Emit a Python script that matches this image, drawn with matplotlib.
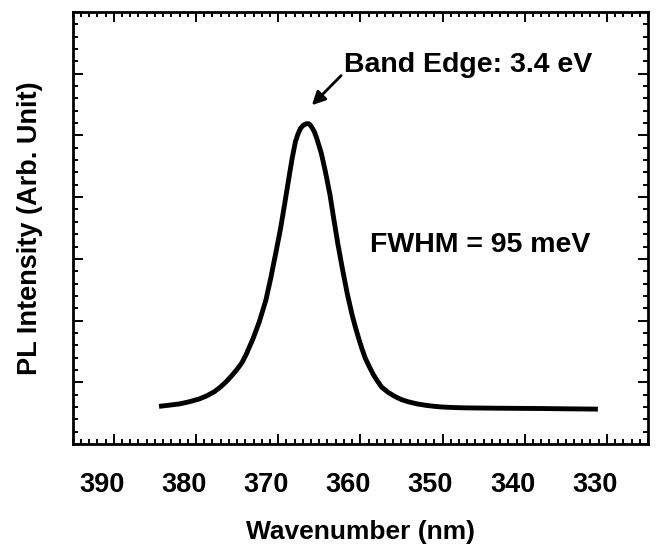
import numpy as np
import matplotlib.pyplot as plt
from matplotlib.ticker import MultipleLocator
from matplotlib.transforms import ScaledTranslation

plt.rcParams['font.family'] = ['Liberation Sans', 'DejaVu Sans']
plt.rcParams['font.weight'] = 'bold'

# PL spectrum (wavelength in nm, intensity in arb. units)
wavelength = [384.5, 383.2, 382.0, 380.8, 379.6, 378.7, 377.8, 377.1, 376.4,
              375.7, 375.0, 374.4, 373.9, 373.05, 372.3, 371.5, 370.9, 370.3,
              369.7, 369.2, 368.7, 368.3, 367.9, 367.6, 367.3, 367.0, 366.75,
              366.55, 366.3, 366.1, 365.9, 365.6, 365.3, 364.75, 364.25, 363.7,
              363.25, 362.75, 362.2, 361.6, 361.0, 360.6, 360.2, 359.8, 359.4,
              358.9, 358.4, 357.9, 357.4, 356.6, 355.8, 355.0, 354.2, 353.1,
              352.1, 351.1, 350.1, 348.5, 347.0, 343.3, 338.0, 331.1]
intensity = [0.61, 0.63, 0.65, 0.685, 0.73, 0.78, 0.845, 0.915, 1.0,
             1.1, 1.21, 1.32, 1.45, 1.71, 1.98, 2.33, 2.69, 3.09,
             3.50, 3.90, 4.31, 4.63, 4.90, 5.02, 5.11, 5.16, 5.18,
             5.19, 5.19, 5.17, 5.13, 5.06, 4.95, 4.71, 4.41, 4.04,
             3.66, 3.25, 2.85, 2.44, 2.09, 1.89, 1.71, 1.54, 1.39,
             1.25, 1.12, 1.015, 0.92, 0.835, 0.77, 0.72, 0.685, 0.65,
             0.628, 0.612, 0.60, 0.59, 0.585, 0.58, 0.575, 0.565]

x_ticks = [390, 380, 370, 360, 350, 340, 330]

fig = plt.figure(figsize=(6.57, 5.46), dpi=100)
ax = fig.add_axes([0.1107, 0.1868, 0.9863 - 0.1107, 0.978 - 0.1868])

ax.plot(wavelength, intensity, color='black', lw=3.5,
        solid_capstyle='butt', solid_joinstyle='round')

ax.set_xlim(395, 325)
ax.set_ylim(0, 7)
ax.set_xticks(x_ticks)
ax.xaxis.set_minor_locator(MultipleLocator(1))
ax.yaxis.set_major_locator(MultipleLocator(1))
ax.yaxis.set_minor_locator(MultipleLocator(0.2))
ax.set_yticklabels([])

ax.tick_params(which='both', direction='in', top=True, right=True, width=1.4)
ax.tick_params(which='major', length=7.5)
ax.tick_params(which='minor', length=3.5)
ax.tick_params(axis='x', which='major', pad=20)
for sp in ax.spines.values():
    sp.set_linewidth(2)

# tick labels in the reference sit a bit left of their ticks
offset = ScaledTranslation(-12 / 100, 0, fig.dpi_scale_trans)
for lab in ax.get_xticklabels():
    lab.set_transform(lab.get_transform() + offset)
    lab.set_fontweight('bold')
    lab.set_fontsize(19.5)

ax.set_xlabel('Wavenumber (nm)', fontsize=19, fontweight='bold', va='top')
ax.xaxis.set_label_coords(0.5, -0.175)
ax.set_ylabel('PL Intensity (Arb. Unit)', fontsize=19.5, fontweight='bold')
ax.yaxis.set_label_coords(-0.052, 0.5)

ax.annotate('Band Edge: 3.4 eV', xy=(365.9, 5.49), xytext=(362.0, 6.03),
            fontsize=20.5, fontweight='bold', ha='left', va='baseline',
            arrowprops=dict(arrowstyle='-|>', color='black', lw=2,
                            mutation_scale=20, shrinkA=0, shrinkB=0,
                            relpos=(-0.01, 0.1)))
ax.text(358.8, 3.11, 'FWHM = 95 meV', fontsize=20.5, fontweight='bold',
        ha='left', va='baseline')

fig.savefig('out.png', dpi=100)
